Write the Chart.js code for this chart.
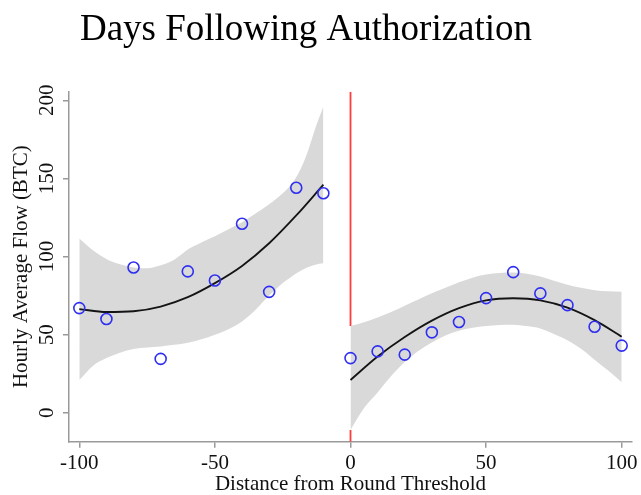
<!DOCTYPE html>
<html>
<head>
<meta charset="utf-8">
<title>Days Following Authorization</title>
<script src="https://cdn.jsdelivr.net/npm/chart.js@4.4.1/dist/chart.umd.min.js"></script>
<style>
  html, body { margin: 0; padding: 0; background: #fff; }
  #wrap { width: 641px; height: 495px; }
</style>
</head>
<body>
<div id="wrap"><canvas id="rd"></canvas></div>
<script>
const TITLE = 'Days Following Authorization';

// Axis ranges and tick labels
const X_MIN = -103.8, X_MAX = 103.8;
const Y_MIN = -18.5, Y_MAX = 205.5;
const xTicks = [-100, -50, 0, 50, 100];
const yTicks = [0, 50, 100, 150, 200];
const THRESHOLD = 0;

// Binned averages, left and right of the threshold
const binsLeft  = [-100, -90, -80, -70, -60, -50, -40, -30, -20, -10];
const flowLeft  = [67, 60, 93, 34.5, 90.5, 84.7, 121, 77.4, 144, 140.5];
const binsRight = [0, 10, 20, 30, 40, 50, 60, 70, 80, 90, 100];
const flowRight = [35, 39.3, 37.2, 51.5, 58.1, 73.4, 90, 76.4, 68.9, 55.1, 43];

// Fitted curve, read at each bin
const fitLeft  = [66.4, 64.5, 65, 68, 74, 83, 94, 108.5, 126.3, 146];
const fitRight = [21, 36, 48.5, 59, 67, 72, 73.3, 72, 67.3, 59.3, 48.7];

// Confidence band edges
const bandLeftX     = [-100, -95, -90, -85, -80, -75, -70, -65, -60, -55, -50, -45, -40, -35, -30, -25, -22, -19, -16, -13, -10];
const bandLeftHigh  = [111.5, 104, 98.5, 95, 93, 92.5, 94.5, 98, 104.5, 109, 113, 117.5, 122, 127.5, 133.5, 140.5, 146, 154, 166, 182, 196];
const bandLeftLow   = [21, 30, 35, 38.5, 40.8, 41.8, 42.5, 43.5, 44.8, 47, 50, 53.5, 58.5, 66, 75, 83, 86.8, 90.2, 93, 94.8, 95.7];
const bandRightX    = [0, 5, 10, 15, 20, 25, 30, 35, 40, 45, 50, 55, 60, 65, 70, 75, 80, 85, 90, 95, 100];
const bandRightHigh = [55.5, 58, 61, 64.5, 68.5, 72.5, 76.5, 80, 83.5, 86.5, 88.5, 89.5, 89.8, 89, 87.2, 84.5, 82, 80, 78.5, 77.8, 77.5];
const bandRightLow  = [-11, 3, 13, 23.5, 32.5, 39.5, 45, 49.5, 52.5, 54.5, 55.5, 56.2, 56.4, 55.5, 54, 50.5, 46.5, 41, 34, 27, 19.5];

const pts = (xs, ys) => xs.map((x, i) => ({ x, y: ys[i] }));

const SERIF = '"Liberation Serif", "Times New Roman", serif';
const AXIS = '#999999';
const BAND = '#d9d9d9';

// higher order = drawn earlier (further back)
const curve = (data, color, width) => ({
  data, order: 2, showLine: true, borderColor: color, borderWidth: width,
  pointRadius: 0, fill: false, cubicInterpolationMode: 'monotone',
});
const band = (data, fillTo) => ({
  data, order: 3, showLine: true, borderWidth: 0, borderColor: BAND, backgroundColor: BAND,
  pointRadius: 0, fill: fillTo, cubicInterpolationMode: 'monotone',
});
const dots = (data) => ({
  data, order: 1, showLine: false, pointRadius: 5.5, pointBorderWidth: 1.6,
  pointBorderColor: '#2f2ff2', pointBackgroundColor: 'rgba(0,0,0,0)',
});

// Threshold line: hidden where the right-hand band covers it
const thresholdLine = [
  { x: THRESHOLD, y: Y_MAX }, { x: THRESHOLD, y: bandRightHigh[0] },
  { x: THRESHOLD, y: null },
  { x: THRESHOLD, y: bandRightLow[0] }, { x: THRESHOLD, y: Y_MIN },
];

// Title drawn by hand so it can sit left of centre
const chartTitle = {
  id: 'chartTitle',
  afterDraw(chart) {
    const { ctx } = chart;
    ctx.save();
    ctx.font = '37px ' + SERIF;
    ctx.fillStyle = '#000';
    ctx.textAlign = 'center';
    ctx.textBaseline = 'alphabetic';
    ctx.fillText(TITLE, 306, 40);
    ctx.restore();
  }
};

// Rotated y tick labels (Chart.js won't rotate labels on a vertical axis)
const yTickLabels = {
  id: 'yTickLabels',
  afterDraw(chart) {
    const { ctx, scales: { y } } = chart;
    ctx.save();
    ctx.font = '21px ' + SERIF;
    ctx.fillStyle = '#111';
    ctx.textAlign = 'center';
    ctx.textBaseline = 'alphabetic';
    yTicks.forEach(v => {
      ctx.save();
      ctx.translate(y.right - 16, y.getPixelForValue(v));
      ctx.rotate(-Math.PI / 2);
      ctx.fillText(String(v), 0, 0);
      ctx.restore();
    });
    ctx.restore();
  }
};

new Chart(document.getElementById('rd'), {
  type: 'line',
  data: {
    datasets: [
      dots(pts(binsLeft, flowLeft)),
      dots(pts(binsRight, flowRight)),
      curve(pts(binsLeft, fitLeft), '#141414', 1.8),
      curve(pts(binsRight, fitRight), '#141414', 1.8),
      band(pts(bandLeftX, bandLeftHigh), '+1'),
      band(pts(bandLeftX, bandLeftLow), false),
      band(pts(bandRightX, bandRightHigh), '+1'),
      band(pts(bandRightX, bandRightLow), false),
      { data: thresholdLine, order: 9, showLine: true, spanGaps: false, borderColor: '#ff3b3b',
        borderWidth: 1.8, pointRadius: 0, fill: false, tension: 0 },
    ],
  },
  options: {
    responsive: true,
    maintainAspectRatio: false,
    animation: false,
    events: [],
    layout: { padding: { top: 91.7, left: 0, right: 9, bottom: 0 } },
    plugins: {
      legend: { display: false },
      tooltip: { enabled: false },
      title: { display: false },
      filler: { drawTime: 'beforeDatasetDraw' },
    },
    scales: {
      x: {
        type: 'linear',
        min: X_MIN, max: X_MAX,
        afterBuildTicks: s => { s.ticks = xTicks.map(value => ({ value })); },
        afterFit: s => { s.height = 53.3; },
        ticks: { color: '#111', font: { family: SERIF, size: 21 }, padding: 3, maxRotation: 0 },
        grid: { drawOnChartArea: false, drawTicks: true, tickLength: 6, color: AXIS, lineWidth: 1.5 },
        border: { display: true, color: AXIS, width: 1.5 },
        title: {
          display: true, text: 'Distance from Round Threshold', color: '#111',
          font: { family: SERIF, size: 21, lineHeight: 1 }, padding: { top: 0, bottom: 0 },
        },
      },
      y: {
        type: 'linear',
        min: Y_MIN, max: Y_MAX,
        afterBuildTicks: s => { s.ticks = yTicks.map(value => ({ value })); },
        afterFit: s => { s.width = 69; },
        ticks: { display: false },
        grid: { drawOnChartArea: false, drawTicks: true, tickLength: 6, color: AXIS, lineWidth: 1.5 },
        border: { display: true, color: AXIS, width: 1.5 },
        title: {
          display: true, text: 'Hourly Average Flow (BTC)', color: '#111',
          font: { family: SERIF, size: 21, lineHeight: 1 }, padding: { top: 10.5, bottom: 0 },
        },
      },
    },
  },
  plugins: [chartTitle, yTickLabels],
});
</script>
</body>
</html>
